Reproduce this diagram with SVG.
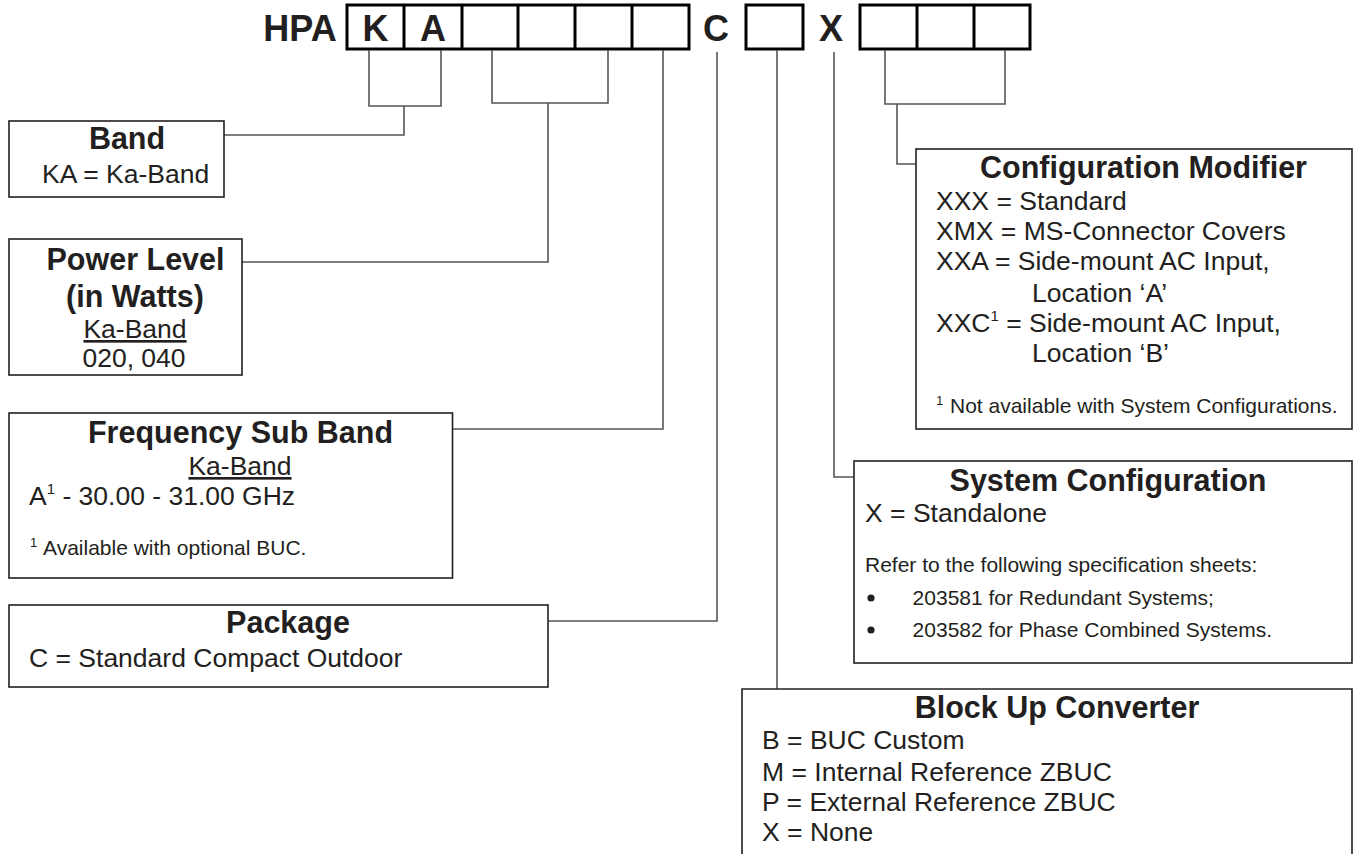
<svg xmlns="http://www.w3.org/2000/svg" width="1355" height="854" viewBox="0 0 1355 854">
<style>
text{font-family:"Liberation Sans",Arial,Helvetica,sans-serif;fill:#231f20}
.t{font-size:30.5px;font-weight:bold;text-anchor:middle}
.b{font-size:26.5px}
.c{font-size:26.5px;text-anchor:middle}
.s{font-size:21px}
.big{font-size:36px;font-weight:bold;text-anchor:middle}
.box{fill:#fff;stroke:#231f20;stroke-width:1.6}
.cell{fill:#fff;stroke:#000;stroke-width:3}
.con{fill:none;stroke:#555;stroke-width:1.6}
.u{text-decoration:underline}
</style>
<rect width="1355" height="854" fill="#fff"/>
<g id="code">
<text class="big" x="300" y="41">HPA</text>
<rect class="cell" x="347" y="5" width="342" height="44"/>
<path class="cell" d="M404,5V49M462,5V49M518,5V49M575,5V49M632,5V49"/>
<text class="big" x="375.5" y="41">K</text>
<text class="big" x="433" y="41">A</text>
<text class="big" x="716" y="41">C</text>
<rect class="cell" x="746" y="5" width="57" height="44"/>
<text class="big" x="831" y="41">X</text>
<rect class="cell" x="860" y="5" width="170" height="44"/>
<path class="cell" d="M917,5V49M974,5V49"/>
</g>
<g id="connectors">
<path class="con" d="M369,50V106H441V50M404,106V135H224"/>
<path class="con" d="M492,50V103H608V50M548,103V262H242"/>
<path class="con" d="M663,50V429H452.5"/>
<path class="con" d="M717,52V621H548"/>
<path class="con" d="M777,50V689"/>
<path class="con" d="M834,52V477H854"/>
<path class="con" d="M885,50V104H1005V50M897,104V164H916"/>
</g>
<g id="band">
<rect class="box" x="9" y="121" width="215" height="76"/>
<text class="t" x="127" y="149">Band</text>
<text class="b" x="42" y="183">KA = Ka-Band</text>
</g>
<g id="power">
<rect class="box" x="9" y="239" width="233" height="136"/>
<text class="t" x="135.5" y="270">Power Level</text>
<text class="t" x="135" y="307">(in Watts)</text>
<text class="c u" x="135" y="338">Ka-Band</text>
<text class="c" x="134" y="367">020, 040</text>
</g>
<g id="freq">
<rect class="box" x="9" y="413" width="443.5" height="165"/>
<text class="t" x="240.5" y="443">Frequency Sub Band</text>
<text class="c u" x="240" y="475">Ka-Band</text>
<text class="b" x="29" y="505">A<tspan font-size="15" dy="-11">1</tspan><tspan dy="11"> - 30.00 - 31.00 GHz</tspan></text>
<text class="s" x="30" y="555"><tspan font-size="13" dy="-8">1</tspan><tspan x="43" dy="8">Available with optional BUC.</tspan></text>
</g>
<g id="package">
<rect class="box" x="9" y="605" width="539" height="82"/>
<text class="t" x="288" y="633">Package</text>
<text class="b" x="29" y="667">C = Standard Compact Outdoor</text>
</g>
<g id="configmod">
<rect class="box" x="916" y="149" width="436" height="280"/>
<text class="t" x="1143.5" y="178">Configuration Modifier</text>
<text class="b" x="936" y="210">XXX = Standard</text>
<text class="b" x="936" y="240">XMX = MS-Connector Covers</text>
<text class="b" x="936" y="270">XXA = Side-mount AC Input,</text>
<text class="b" x="1032" y="302">Location ‘A’</text>
<text class="b" x="936" y="332">XXC<tspan font-size="15" dy="-11">1</tspan><tspan dy="11"> = Side-mount AC Input,</tspan></text>
<text class="b" x="1032" y="362">Location ‘B’</text>
<text class="s" x="936" y="413"><tspan font-size="13" dy="-8">1</tspan><tspan x="950" dy="8">Not available with System Configurations.</tspan></text>
</g>
<g id="sysconfig">
<rect class="box" x="854" y="461" width="498" height="202"/>
<text class="t" x="1108" y="491">System Configuration</text>
<text class="b" x="865" y="522">X = Standalone</text>
<text class="s" x="865" y="572">Refer to the following specification sheets:</text>
<circle cx="871" cy="598" r="3.6" fill="#231f20"/>
<text class="s" x="912.6" y="605">203581 for Redundant Systems;</text>
<circle cx="871" cy="630" r="3.6" fill="#231f20"/>
<text class="s" x="912.6" y="637">203582 for Phase Combined Systems.</text>
</g>
<g id="buc">
<path class="box" d="M742,855V689H1352V855"/>
<text class="t" x="1057" y="718">Block Up Converter</text>
<text class="b" x="762" y="749">B = BUC Custom</text>
<text class="b" x="762" y="781">M = Internal Reference ZBUC</text>
<text class="b" x="762" y="811">P = External Reference ZBUC</text>
<text class="b" x="762" y="841">X = None</text>
</g>
</svg>
